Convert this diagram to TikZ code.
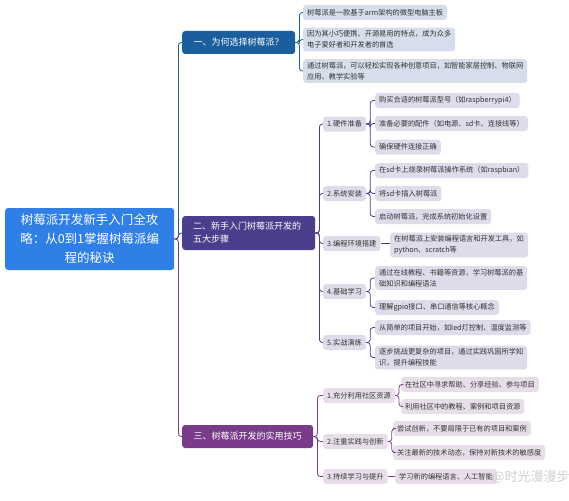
\documentclass[tikz,border=0pt]{standalone}
\usepackage{fontspec}
\setmainfont{Noto Sans CJK SC}
\definecolor{rootc}{HTML}{2F7FE5}
\definecolor{cA}{HTML}{1A5E9E}
\definecolor{cB}{HTML}{4A3F8C}
\definecolor{cC}{HTML}{7A3B8A}
\definecolor{lA}{HTML}{D5DEEA}
\definecolor{lB}{HTML}{DEDCEB}
\definecolor{lC}{HTML}{E7DEE9}
\definecolor{txt}{HTML}{333333}
\tikzset{
  rootbox/.style={fill=rootc, text=white, rounded corners=3pt, minimum width=169pt, minimum height=62pt, align=center, font=\fontsize{12.5}{19}\selectfont, anchor=west, inner sep=0pt},
  brbox/.style={text=white, rounded corners=3pt, anchor=west, inner xsep=0pt, font=\fontsize{9}{13}\selectfont},
  subbox/.style={rounded corners=3pt, anchor=west, inner xsep=4pt, inner ysep=3pt, font=\fontsize{7.2}{11}\selectfont, text=txt, minimum height=15pt, align=left},
  ln/.style={line width=0.8pt, rounded corners=3pt},
}
\begin{document}
\begin{tikzpicture}[x=1pt,y=-1pt]
\useasboundingbox[fill=white] (0,0) rectangle (569,500);

% root
\node[rootbox] (root) at (5,239) {树莓派开发新手入门全攻\\略：从0到1掌握树莓派编\\程的秘诀};

% branches
\node[brbox, fill=cA, minimum width=113pt, minimum height=23pt] (b1) at (182,42.5) {一、为何选择树莓派？};
\node[brbox, fill=cB, minimum width=133pt, minimum height=34pt, align=left, text width=133pt, inner xsep=0pt] (b2) at (182,233) {\hspace*{11pt}二、新手入门树莓派开发的\\\hspace*{11pt}五大步骤};
\node[brbox, fill=cC, minimum width=131pt, minimum height=23pt] (b3) at (182,436.5) {三、树莓派开发的实用技巧};

% branch 1 leaves
\node[subbox, fill=lA] (a1) at (303,12.5) {树莓派是一款基于arm架构的微型电脑主板};
\node[subbox, fill=lA] (a2) at (303,39.5) {因为其小巧便携、开源易用的特点，成为众多\\电子爱好者和开发者的首选};
\node[subbox, fill=lA] (a3) at (303,71) {通过树莓派，可以轻松实现各种创意项目，如智能家居控制、物联网\\应用、教学实验等};

% branch 2 subs
\node[subbox, fill=lB] (s1) at (323,124) {1.硬件准备};
\node[subbox, fill=lB] (s2) at (323,193.5) {2.系统安装};
\node[subbox, fill=lB] (s3) at (323,243.5) {3.编程环境搭建};
\node[subbox, fill=lB] (s4) at (323,291.5) {4.基础学习};
\node[subbox, fill=lB] (s5) at (323,342.5) {5.实战演练};

\node[subbox, fill=lB] (s11) at (375,100.5) {购买合适的树莓派型号（如raspberrypi4）};
\node[subbox, fill=lB] (s12) at (375,123.5) {准备必要的配件（如电源、sd卡、连接线等）};
\node[subbox, fill=lB] (s13) at (375,147) {确保硬件连接正确};
\node[subbox, fill=lB] (s21) at (375,170.5) {在sd卡上烧录树莓派操作系统（如raspbian）};
\node[subbox, fill=lB] (s22) at (375,193.5) {将sd卡插入树莓派};
\node[subbox, fill=lB] (s23) at (375,216.5) {启动树莓派，完成系统初始化设置};
\node[subbox, fill=lB] (s31) at (390,245) {在树莓派上安装编程语言和开发工具，如\\python、scratch等};
\node[subbox, fill=lB] (s41) at (375,278) {通过在线教程、书籍等资源，学习树莓派的基\\础知识和编程语法};
\node[subbox, fill=lB] (s42) at (375,307.5) {理解gpio接口、串口通信等核心概念};
\node[subbox, fill=lB] (s51) at (375,327.5) {从简单的项目开始，如led灯控制、温度监测等};
\node[subbox, fill=lB] (s52) at (375,357.5) {逐步挑战更复杂的项目，通过实践巩固所学知\\识，提升编程技能};

% branch 3 subs
\node[subbox, fill=lC] (t1) at (323,395.5) {1.充分利用社区资源};
\node[subbox, fill=lC] (t2) at (323,441.5) {2.注重实践与创新};
\node[subbox, fill=lC] (t3) at (323,476.5) {3.持续学习与提升};

\node[subbox, fill=lC] (t11) at (401,384.5) {在社区中寻求帮助、分享经验、参与项目};
\node[subbox, fill=lC] (t12) at (401,406.5) {利用社区中的教程、案例和项目资源};
\node[subbox, fill=lC] (t21) at (393,428.5) {尝试创新，不要局限于已有的项目和案例};
\node[subbox, fill=lC] (t22) at (393,452.5) {关注最新的技术动态，保持对新技术的敏感度};
\node[subbox, fill=lC] (t31) at (395,476.5) {学习新的编程语言、人工智能};

% connectors root -> branches
\draw[ln, cA] (root.east) -- ++(4,0) |- (b1.west);
\draw[ln, cB] (root.east) -- ++(4,0) |- (b2.west);
\draw[ln, cC] (root.east) -- ++(4,0) |- (b3.west);

% branch 1
\foreach \c in {a1,a2,a3} \draw[ln, cA] (b1.east) -- ++(4,0) |- (\c.west);
% branch 2
\foreach \c in {s1,s2,s3,s4,s5} \draw[ln, cB] (b2.east) -- ++(4,0) |- (\c.west);
\foreach \c in {s11,s12,s13} \draw[ln, cB] (s1.east) -- ++(4,0) |- (\c.west);
\foreach \c in {s21,s22,s23} \draw[ln, cB] (s2.east) -- ++(4,0) |- (\c.west);
\draw[ln, cB] (s3.east) -- (s31.west |- s3.east);
\foreach \c in {s41,s42} \draw[ln, cB] (s4.east) -- ++(4,0) |- (\c.west);
\foreach \c in {s51,s52} \draw[ln, cB] (s5.east) -- ++(4,0) |- (\c.west);
% branch 3
\foreach \c in {t1,t2,t3} \draw[ln, cC] (b3.east) -- ++(4,0) |- (\c.west);
\foreach \c in {t11,t12} \draw[ln, cC] (t1.east) -- ++(4,0) |- (\c.west);
\foreach \c in {t21,t22} \draw[ln, cC] (t2.east) -- ++(4,0) |- (\c.west);
\draw[ln, cC] (t3.east) -- (t31.west);

% watermark
\node[anchor=west, text=gray!45, opacity=0.85, font=\fontsize{13}{15}\selectfont, inner sep=0pt] (wm) at (492,477) {@时光漫漫步};
\end{tikzpicture}
\end{document}
